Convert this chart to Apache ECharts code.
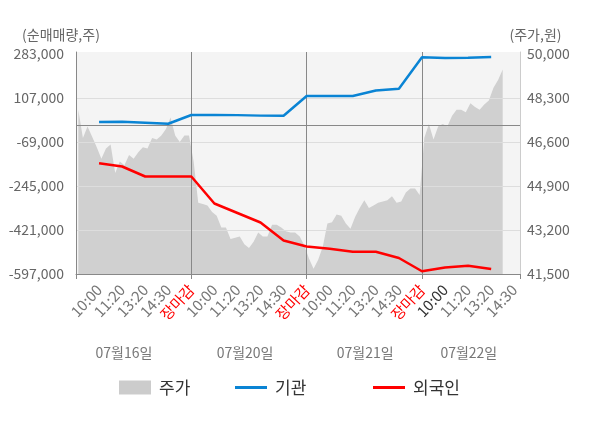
<!DOCTYPE html>
<html>
<head>
<meta charset="utf-8">
<script src="https://cdn.jsdelivr.net/npm/echarts@6/dist/echarts.min.js"></script>
<style>
    html, body { margin: 0; padding: 0; background: #fff; }
    #chart { width: 600px; height: 428px; }
</style>
</head>
<body>
<div id="chart"></div>
<script>
// x 축 시간 라벨 (장마감 = 하루 끝)
const timeLabels = [
    '10:00', '11:20', '13:20', '14:30', '장마감',
    '10:00', '11:20', '13:20', '14:30', '장마감',
    '10:00', '11:20', '13:20', '14:30', '장마감',
    '10:00', '11:20', '13:20', '14:30'
];
const dateLabels = ['07월16일', '07월20일', '07월21일', '07월22일'];

// 좌축 / 우축 눈금
const leftTicks = [-597000, -421000, -245000, -69000, 107000, 283000];
const rightTicks = [41500, 43200, 44900, 46600, 48300, 50000];

// 주가 (일별, 라벨 간격의 1/5 단위로 읽은 값)
const day1Price = [47850, 46750, 47200, 46800, 46400, 45950, 46350, 46500, 45400, 45850, 45700, 46100, 45950,
    46200, 46400, 46350, 46750, 46700, 46850, 47100, 47550, 46850, 46600, 46850, 46850];
const day2Price = [45850, 44250, 44200, 44150, 43900, 43750, 43300, 43300, 42850, 42900, 42950, 42650, 42500,
    42750, 43100, 42950, 42950, 43400, 43400, 43300, 43150, 43100, 43100, 42950, 42600];
const day3Price = [42100, 41700, 42050, 42550, 43450, 43500, 43800, 43750, 43450, 43250, 43700, 44050, 44350,
    44050, 44150, 44250, 44300, 44350, 44500, 44250, 44300, 44650, 44800, 44800, 44550];
const day4Price = [46750, 47300, 46700, 47200, 47300, 47200, 47600, 47850, 47850, 47750, 48100, 47950, 47850,
    48050, 48200, 48700, 49000, 49400];

// 순매매량 (라벨 위치마다)
const institution = [11000, 12000, 8000, 4000, 39000, 39000, 38500, 36500, 36000, 115000,
    115000, 115000, 137000, 144000, 270000, 267000, 268000, 271000];
const foreign = [-154000, -167000, -207000, -207000, -207000, -315000, -353000, -391000, -463000, -487000,
    -496000, -508000, -508000, -533000, -586000, -571000, -564000, -577000];

const FONT = '"Noto Sans CJK KR", "Noto Sans", sans-serif';
const datePos = [2.08, 7.33, 12.54, 17.03];

let priceData = [];
[day1Price, day2Price, day3Price, day4Price].forEach((day, d) => {
    day.forEach((p, k) => {
        priceData.push([5 * d + 0.1 + 0.2 * k, p]);
    });
});
const instData = institution.map((v, i) => [i + 1, v]);
const foreignData = foreign.map((v, i) => [i + 1, v]);

function fmtNum(v) {
    return v.toLocaleString('en-US');
}

function legendOf(name, left, h) {
    return {
        data: [{name: name, icon: 'rect'}], left: left, top: 374,
        itemWidth: 32, itemHeight: h, itemGap: 0, selectedMode: false,
        textStyle: {fontSize: 17, color: '#333', fontFamily: FONT, padding: [0, 0, 0, 3]}
    };
}

let option = {
    animation: false,
    textStyle: {fontFamily: FONT},
    grid: {
        left: 76, right: 80, top: 52, bottom: 154,
        show: true, backgroundColor: '#f4f4f4', borderWidth: 0
    },
    legend: [
        legendOf('주가', 114, 14),
        legendOf('기관', 230, 3),
        legendOf('외국인', 368, 3)
    ],
    xAxis: [
        {
            type: 'value', min: 0, max: 19.25, z: 3,
            axisLine: {onZero: false, lineStyle: {color: '#888'}},
            axisTick: {customValues: [0, 5, 10, 15, 19.25], length: 5, lineStyle: {color: '#888'}},
            splitLine: {show: true, showMinLine: false, showMaxLine: false, lineStyle: {color: '#888'}},
            axisLabel: {
                customValues: timeLabels.map((t, i) => i + 1),
                rotate: 47, margin: 13, fontSize: 15, color: '#777',
                formatter: function (v) {
                    let i = Math.round(v) - 1;
                    let t = timeLabels[i];
                    if (t === '장마감') return '{red|' + t + '}';
                    if (i === 15) return '{dark|' + t + '}';
                    return t;
                },
                rich: {
                    red: {color: '#ff0000', fontSize: 15, fontFamily: FONT},
                    dark: {color: '#333', fontSize: 15, fontFamily: FONT}
                }
            }
        },
        {
            type: 'value', min: 0, max: 19.25, position: 'bottom', offset: 64,
            axisLine: {show: false, onZero: false}, axisTick: {show: false}, splitLine: {show: false},
            axisLabel: {
                customValues: datePos, fontSize: 14, color: '#777',
                formatter: function (v) {
                    let best = 0;
                    datePos.forEach((p, i) => {
                        if (Math.abs(p - v) < Math.abs(datePos[best] - v)) best = i;
                    });
                    return dateLabels[best];
                }
            }
        }
    ],
    yAxis: [
        {
            // 위쪽에 2px 여백 (배경 패널이 283,000 선보다 약간 위에서 시작)
            type: 'value', min: -597000, max: 291000, z: 3,
            name: '(순매매량,주)', nameLocation: 'end', nameGap: 10,
            nameTextStyle: {fontSize: 14, color: '#666', padding: [0, 30, 0, 0]},
            axisLine: {show: true, onZero: false, lineStyle: {color: '#888'}},
            axisTick: {show: false, customValues: leftTicks},
            axisLabel: {customValues: leftTicks, fontSize: 14, color: '#666', margin: 12, formatter: fmtNum},
            splitLine: {show: true, showMinLine: false, showMaxLine: false, lineStyle: {color: '#dddddd'}}
        },
        {
            type: 'value', min: 41500, max: 50077.3, position: 'right',
            name: '(주가,원)', nameLocation: 'end', nameGap: 10,
            nameTextStyle: {fontSize: 14, color: '#666', padding: [0, 0, 0, 31]},
            axisLine: {show: true, onZero: false, lineStyle: {color: '#cccccc'}},
            axisTick: {show: false, customValues: rightTicks},
            axisLabel: {customValues: rightTicks, fontSize: 14, color: '#666', margin: 7, formatter: fmtNum},
            splitLine: {show: false}
        }
    ],
    series: [
        {
            name: '주가', type: 'line', yAxisIndex: 1, data: priceData,
            symbol: 'none', silent: true, z: 2,
            itemStyle: {color: '#cccccc'},
            lineStyle: {width: 0},
            areaStyle: {color: '#d0d0d0', opacity: 1, origin: 'start'}
        },
        {
            name: '기관', type: 'line', data: instData, symbol: 'none', z: 5,
            itemStyle: {color: '#0a84d4'},
            lineStyle: {width: 2.5, color: '#0a84d4'},
            markLine: {
                silent: true, symbol: ['none', 'none'], label: {show: false},
                lineStyle: {color: '#888', type: 'solid', width: 1},
                data: [{yAxis: 0}]
            }
        },
        {
            name: '외국인', type: 'line', data: foreignData, symbol: 'none', z: 5,
            itemStyle: {color: '#ff0000'},
            lineStyle: {width: 2.5, color: '#ff0000'}
        }
    ]
};

let myChart = echarts.init(document.getElementById('chart'));
myChart.setOption(option);
</script>
</body>
</html>
